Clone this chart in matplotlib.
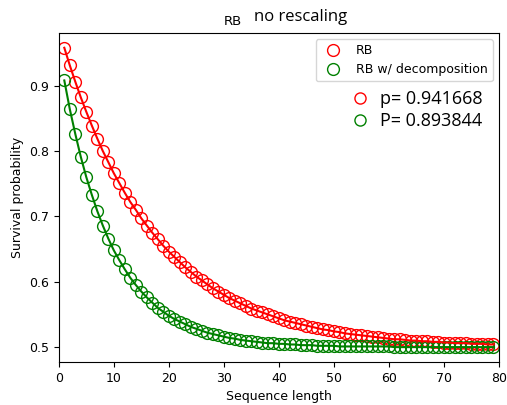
import matplotlib
matplotlib.use("Agg")
from matplotlib import pyplot as plt
from matplotlib.lines import Line2D
import numpy as np

# sequence lengths
lengths = np.arange(1, 80)

# survival probabilities
rb = [0.958, 0.931, 0.906, 0.882, 0.860, 0.839, 0.819, 0.800, 0.783, 0.766,
      0.751, 0.736, 0.722, 0.710, 0.697, 0.686, 0.675, 0.665, 0.655, 0.646,
      0.638, 0.630, 0.622, 0.615, 0.608, 0.602, 0.596, 0.590, 0.585, 0.580,
      0.575, 0.571, 0.567, 0.563, 0.559, 0.556, 0.553, 0.550, 0.547, 0.544,
      0.541, 0.539, 0.537, 0.535, 0.533, 0.531, 0.529, 0.527, 0.526, 0.524,
      0.523, 0.521, 0.520, 0.519, 0.518, 0.517, 0.516, 0.515, 0.514, 0.513,
      0.512, 0.512, 0.511, 0.510, 0.510, 0.509, 0.509, 0.508, 0.508, 0.507,
      0.507, 0.506, 0.506, 0.506, 0.505, 0.505, 0.505, 0.504, 0.504]

rb_decomp = [0.908, 0.864, 0.826, 0.791, 0.760, 0.733, 0.708, 0.686, 0.666, 0.648,
             0.633, 0.619, 0.606, 0.595, 0.585, 0.576, 0.568, 0.560, 0.554, 0.548,
             0.543, 0.539, 0.535, 0.531, 0.528, 0.525, 0.522, 0.520, 0.518, 0.516,
             0.514, 0.513, 0.511, 0.510, 0.509, 0.508, 0.507, 0.506, 0.506, 0.505,
             0.505, 0.504, 0.504, 0.503, 0.503, 0.503, 0.502, 0.502, 0.502, 0.502,
             0.501, 0.501, 0.501, 0.501, 0.501, 0.501, 0.501, 0.501, 0.501, 0.501,
             0.500, 0.500, 0.500, 0.500, 0.500, 0.500, 0.500, 0.500, 0.500, 0.500,
             0.500, 0.500, 0.500, 0.500, 0.500, 0.500, 0.500, 0.500, 0.500]

p_labels = ["p= 0.941668", "P= 0.893844"]

fig = plt.figure(figsize=(5.07, 4.05), dpi=100)
ax = fig.add_axes([0.116, 0.106, 0.868, 0.813])

ax.plot(lengths, rb, "o", mfc="none", mec="red", ms=8.5, mew=1.0, label="RB")
ax.plot(lengths, rb_decomp, "o", mfc="none", mec="green", ms=8.5, mew=1.0,
        label="RB w/ decomposition")
ax.plot(lengths, rb, "-", color="red", lw=1.5)
ax.plot(lengths, rb_decomp, "-", color="green", lw=1.5)

ax.set_xlim(0, 80)
ax.set_yticks([0.5, 0.6, 0.7, 0.8, 0.9])
ax.tick_params(labelsize=9)
ax.set_xlabel("Sequence length", fontsize=9)
ax.set_ylabel("Survival probability", fontsize=9)

leg1 = ax.legend(loc="upper right", fontsize=9)
ax.add_artist(leg1)

handles = [Line2D([], [], ls="none", marker="o", mfc="none", mec="red", ms=8),
           Line2D([], [], ls="none", marker="o", mfc="none", mec="green", ms=8)]
ax.legend(handles, p_labels, loc="upper left", bbox_to_anchor=(0.66, 0.818),
          bbox_transform=fig.transFigure, frameon=False, handlelength=1.0,
          handletextpad=0.6, labelspacing=0.25,
          prop={"family": "Open Sans", "size": 13})

fig.text(0.46, 0.948, "RB", fontsize=9.5, ha="center", va="center")
fig.text(0.593, 0.958, "no rescaling", fontsize=12, family="Open Sans",
         ha="center", va="center")

fig.savefig("out.png", dpi=100)
